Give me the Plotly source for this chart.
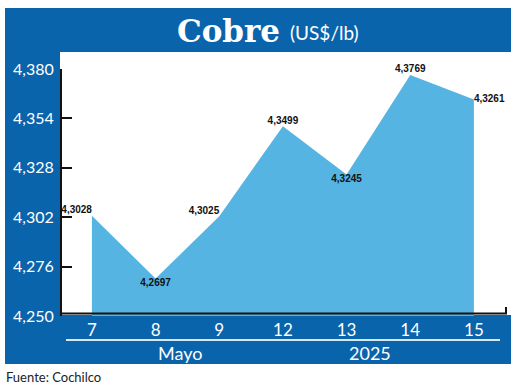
import plotly.graph_objects as go

# Data
days = ["7", "8", "9", "12", "13", "14", "15"]
values = [4.3028, 4.2697, 4.3025, 4.3499, 4.3245, 4.3769, 4.364]
value_labels = ["4,3028", "4,2697", "4,3025", "4,3499", "4,3245", "4,3769", "4,3261"]
label_pos = ["top left", "bottom center", "top left", "top center", "bottom center", "top center", "middle right"]
y_ticks = [4.250, 4.276, 4.302, 4.328, 4.354, 4.380]
y_tick_text = ["4,250", "4,276", "4,302", "4,328", "4,354", "4,380"]
month_label = "Mayo"
year_label = "2025"

W, H = 520, 388
L, R, T, B = 62, 13, 69, 72
pw, ph = W - L - R, H - T - B

def px(x):
    return (x - L) / pw

def py(y):
    return (H - B - y) / ph

BLUE = "#0a64ac"
FILL = "#56b4e3"
SANS = "Lato, Open Sans, sans-serif"

fig = go.Figure()
fig.add_trace(go.Scatter(
    x=list(range(len(days))), y=values,
    mode="lines", line=dict(color=FILL, width=0),
    fill="tozeroy", fillcolor=FILL, hoverinfo="skip", showlegend=False,
))
fig.add_trace(go.Scatter(
    x=list(range(len(days))), y=values,
    mode="text", text=value_labels, textposition=label_pos,
    textfont=dict(family="Liberation Sans, Arial, sans-serif", size=10, color="#111111", weight="bold"),
    hoverinfo="skip", showlegend=False, cliponaxis=False,
))

shapes = [
    dict(type="rect", xref="paper", yref="paper", x0=px(5), x1=px(511), y0=py(52), y1=py(8),
         fillcolor=BLUE, line=dict(width=0), layer="below"),
    dict(type="rect", xref="paper", yref="paper", x0=px(5), x1=px(60), y0=py(364), y1=py(8),
         fillcolor=BLUE, line=dict(width=0), layer="below"),
    dict(type="rect", xref="paper", yref="paper", x0=px(5), x1=px(511), y0=py(364), y1=py(315),
         fillcolor=BLUE, line=dict(width=0), layer="below"),
    dict(type="line", xref="paper", yref="paper", x0=px(66), x1=px(500), y0=py(340), y1=py(340),
         line=dict(color="#d6e8f6", width=2)),
    dict(type="line", xref="paper", yref="paper", x0=px(62), x1=px(507), y0=py(313.5), y1=py(313.5),
         line=dict(color="#111111", width=2)),
    dict(type="line", xref="paper", yref="paper", x0=px(506), x1=px(506), y0=py(313.5), y1=py(307),
         line=dict(color="#111111", width=2)),
]

annotations = [
    dict(text="<b>Cobre</b>", x=px(228), y=py(31), xref="paper", yref="paper", showarrow=False,
         xanchor="center", yanchor="middle",
         font=dict(family="DejaVu Serif, Liberation Serif, serif", size=31, color="white")),
    dict(text="(US$/lb)", x=px(288), y=py(33), xref="paper", yref="paper", showarrow=False,
         xanchor="left", yanchor="middle",
         font=dict(family=SANS, size=19, color="white")),
    dict(text=month_label, x=px(180), y=py(353), xref="paper", yref="paper", showarrow=False,
         xanchor="center", yanchor="middle",
         font=dict(family=SANS, size=18, color="white")),
    dict(text=year_label, x=px(370), y=py(353), xref="paper", yref="paper", showarrow=False,
         xanchor="center", yanchor="middle",
         font=dict(family=SANS, size=18, color="white")),
    dict(text="Fuente: Cochilco", x=px(4), y=py(377), xref="paper", yref="paper", showarrow=False,
         xanchor="left", yanchor="middle",
         font=dict(family=SANS, size=13, color="#222222")),
]

fig.update_layout(
    width=W, height=H,
    margin=dict(l=L, r=R, t=T, b=B, pad=0),
    paper_bgcolor="white", plot_bgcolor="rgba(0,0,0,0)",
    shapes=shapes, annotations=annotations,
    showlegend=False,
    xaxis=dict(
        range=[-0.47, 6.52], tickmode="array", tickvals=list(range(len(days))), ticktext=days,
        showgrid=False, zeroline=False, showline=False, ticks="",
        tickfont=dict(family=SANS, size=17, color="white"),
        ticklabelstandoff=2, fixedrange=True,
    ),
    yaxis=dict(
        range=[4.25, 4.38], tickmode="array", tickvals=y_ticks, ticktext=y_tick_text,
        showgrid=False, zeroline=False, showline=True, linecolor="#111111", linewidth=2,
        ticks="inside", ticklen=10, tickwidth=2, tickcolor="#111111",
        tickfont=dict(family=SANS, size=16, color="white"),
        ticklabelstandoff=3, fixedrange=True,
    ),
)

fig.write_html("out.html")
